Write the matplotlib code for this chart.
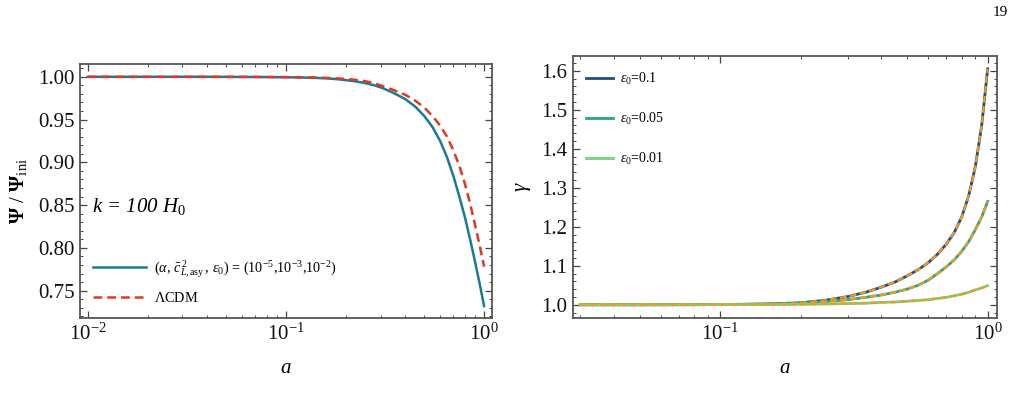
import matplotlib
matplotlib.use("Agg")
import matplotlib.pyplot as plt
from matplotlib.ticker import MultipleLocator, LogLocator, NullFormatter, FormatStrFormatter

plt.rcParams['font.family'] = ['Liberation Serif', 'DejaVu Serif']
plt.rcParams['mathtext.fontset'] = 'custom'
plt.rcParams['mathtext.rm'] = 'Liberation Serif'
plt.rcParams['mathtext.it'] = 'Liberation Serif:italic'
plt.rcParams['mathtext.bf'] = 'Liberation Serif:bold'

# left panel: Psi / Psi_ini vs a
a_psi = [0.01, 0.02, 0.04, 0.07, 0.1, 0.12, 0.14, 0.16, 0.18, 0.2, 0.22, 0.25, 0.28, 0.31,
         0.35, 0.4, 0.45, 0.5, 0.55, 0.6, 0.65, 0.7, 0.75, 0.8, 0.85, 0.9, 0.95, 1.0]
psi_model = [1.0, 1.0, 1.0, 0.9998, 0.9995, 0.9992, 0.9988, 0.9982, 0.9973, 0.9962, 0.995,
             0.9928, 0.990, 0.9865, 0.981, 0.974, 0.965, 0.954, 0.941, 0.925, 0.906, 0.884,
             0.860, 0.836, 0.810, 0.784, 0.758, 0.732]
psi_lcdm = [1.0, 1.0, 1.0, 0.9999, 0.9997, 0.9995, 0.9992, 0.9988, 0.9982, 0.9975, 0.9967,
            0.995, 0.9925, 0.9888, 0.9845, 0.979, 0.972, 0.964, 0.954, 0.943, 0.930, 0.914,
            0.896, 0.875, 0.852, 0.827, 0.803, 0.778]

# right panel: gamma vs a
a_gam = [0.03, 0.05, 0.08, 0.1, 0.15, 0.2, 0.25, 0.3, 0.35, 0.4, 0.45, 0.5, 0.55,
         0.6, 0.65, 0.7, 0.75, 0.8, 0.85, 0.9, 0.95, 1.0]
gam_e01 = [1.0, 1.0, 1.0002, 1.0005, 1.002, 1.005, 1.012, 1.021, 1.032, 1.045, 1.058, 1.074,
           1.090, 1.108, 1.130, 1.155, 1.185, 1.225, 1.280, 1.355, 1.460, 1.605]
gam_e005 = [1.0, 1.0, 1.0002, 1.0005, 1.0015, 1.004, 1.008, 1.013, 1.019, 1.025, 1.032, 1.040,
            1.050, 1.063, 1.080, 1.097, 1.115, 1.137, 1.162, 1.193, 1.225, 1.265]
gam_e001 = [1.0, 1.0, 1.0, 1.0002, 1.0005, 1.001, 1.002, 1.003, 1.004, 1.006, 1.007, 1.009,
            1.011, 1.013, 1.016, 1.019, 1.023, 1.027, 1.032, 1.038, 1.043, 1.049]
gam_labels = [r'$\epsilon_0$=0.1', r'$\epsilon_0$=0.05', r'$\epsilon_0$=0.01']
gam_colors = ['#1f4e85', '#2ca38a', '#74d183']

fig = plt.figure(figsize=(10.18, 4.09), dpi=100)
ax1 = fig.add_axes([80/1018, 1-318/409, 412/1018, 254/409])
ax2 = fig.add_axes([573/1018, 1-318/409, 424/1018, 262/409])

def style(ax):
    for s in ax.spines.values():
        s.set_color('#555555')
        s.set_linewidth(1.3)
    ax.tick_params(which='both', direction='in', top=True, right=True,
                   color='#444444', labelsize=15, labelcolor='#111111')
    ax.tick_params(which='major', length=5, width=0.9, pad=4)
    ax.tick_params(which='minor', length=2.5, width=0.7)
    ax.xaxis.set_minor_locator(LogLocator(base=10, subs=range(2, 10)))
    ax.xaxis.set_minor_formatter(NullFormatter())

# left panel
ax1.plot(a_psi, psi_model, color='#1b7a96', lw=1.8,
         label=r'$(\alpha,\,\bar{c}^{\,2}_{L,\mathrm{asy}}\,,\,\epsilon_0)$ = $(10^{-5}$,$10^{-3}$,$10^{-2})$')
ax1.plot(a_psi, psi_lcdm, color='#e0391c', lw=1.8, ls=(0, (3.5, 2)), label=r'$\Lambda$CDM')
ax1.set_xscale('log')
ax1.set_xlim(10**-2.04, 10**0.04)
ax1.set_ylim(0.718, 1.015)
ax1.yaxis.set_major_locator(MultipleLocator(0.05))
ax1.yaxis.set_minor_locator(MultipleLocator(0.01))
ax1.yaxis.set_major_formatter(FormatStrFormatter('%.2f'))
style(ax1)
ax1.set_xlabel(r'$a$', fontsize=15, labelpad=10)
ax1.set_ylabel(r'$\mathbf{\Psi}$ / $\mathbf{\Psi}_{\mathrm{ini}}$', fontsize=15, labelpad=6)
ax1.text(0.03, 0.44, r'$k$ = 100 $H_0$', transform=ax1.transAxes, fontsize=15,
         va='center', ha='left', style='italic')
ax1.legend(loc='lower left', bbox_to_anchor=(0.0, 0.0), frameon=False, fontsize=10.3,
           handlelength=3.7, labelspacing=0.8, handletextpad=0.55)

# right panel
for y, lab, c in zip([gam_e01, gam_e005, gam_e001], gam_labels, gam_colors):
    ax2.plot(a_gam, y, color=c, lw=2.0, label=lab)
    ax2.plot(a_gam, y, color='#f39a1c', lw=1.6, ls=(0, (3, 1.5)))
ax2.set_xscale('log')
ax2.set_xlim(10**-1.55, 10**0.035)
ax2.set_ylim(0.966, 1.638)
ax2.yaxis.set_major_locator(MultipleLocator(0.1))
ax2.yaxis.set_minor_locator(MultipleLocator(0.02))
ax2.yaxis.set_major_formatter(FormatStrFormatter('%.1f'))
style(ax2)
ax2.set_xlabel(r'$a$', fontsize=15, labelpad=10)
ax2.set_ylabel(r'$\gamma$', fontsize=15, labelpad=6)
ax2.legend(loc='upper left', bbox_to_anchor=(0.0, 0.99), frameon=False, fontsize=10,
           handlelength=2.0, labelspacing=1.7, handletextpad=0.5)

fig.text(1000/1018, 1-12/409, '19', fontsize=11, ha='center', va='center')

fig.savefig('out.png', dpi=100)
